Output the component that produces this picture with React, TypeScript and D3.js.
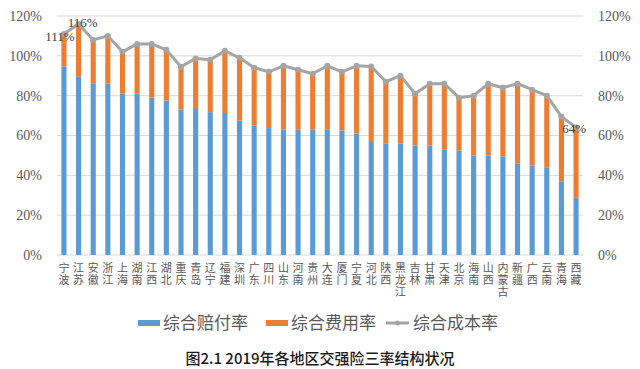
import React from "react";
import * as d3 from "d3";

const regions = [
  "宁波", "江苏", "安徽", "浙江", "上海", "湖南", "江西", "湖北", "重庆", "青岛",
  "辽宁", "福建", "深圳", "广东", "四川", "山东", "河南", "贵州", "大连", "厦门",
  "宁夏", "河北", "陕西", "黑龙江", "吉林", "甘肃", "天津", "北京", "海南", "山西",
  "内蒙古", "新疆", "广西", "云南", "青海", "西藏",
];

// 综合赔付率
const claimRate = [
  94.7, 89.5, 86, 86, 81, 81, 79, 77.5, 73, 73.3, 71.7, 71.3, 67.5, 65, 63.7, 63, 63, 63,
  63, 62.5, 61, 56.7, 56, 56, 55, 55, 53, 52.5, 50, 50, 49.5, 46, 45, 44, 37, 28.7,
];

// 综合费用率
const expenseRate = [
  16.3, 26.5, 22, 24, 21, 25, 27, 25.5, 21.5, 25.4, 26.3, 31.2, 31.5, 29, 28.3, 32, 30, 28,
  32, 29.5, 34, 38, 31, 34, 26, 31, 33, 26.5, 30, 36, 34.5, 40, 38, 36, 32.5, 35.3,
];

// 综合成本率
const costRate = [
  111, 116, 108, 110, 102, 106, 106, 103, 94.5, 98.7, 98, 102.5, 99, 94, 92, 95, 93, 91,
  95, 92, 95, 94.7, 87, 90, 81, 86, 86, 79, 80, 86, 84, 86, 83, 80, 69.5, 64,
];

const labelled = [0, 1, 35];
const yTicks = [0, 20, 40, 60, 80, 100, 120];
const legendItems = ["综合赔付率", "综合费用率", "综合成本率"];
const title = "图2.1  2019年各地区交强险三率结构状况";

const W = 640;
const H = 369;
const BLUE = "#5B9BD5";
const ORANGE = "#ED7D31";
const GRAY = "#A5A5A5";
const TEXT = "#595959";
const CJK = "'Noto Sans CJK SC', sans-serif";
const SERIF = "'Liberation Serif', 'DejaVu Serif', serif";

export default function App() {
  const x = d3
    .scaleBand<string>()
    .domain(regions)
    .range([57, 583])
    .paddingInner(0.65)
    .paddingOuter(0.3);
  const y = d3.scaleLinear().domain([0, 120]).range([255, 16]);
  const cx = (i: number) => (x(regions[i]) as number) + x.bandwidth() / 2;

  const line = d3
    .line<number>()
    .x((_, i) => cx(i))
    .y((d) => y(d));

  // small nudges so the value labels sit like the original
  const labelShift: Record<number, [number, number]> = { 0: [-4, 3], 1: [4, -2], 35: [-2, 1] };

  return (
    <svg
      width={W}
      height={H}
      style={{ position: "absolute", left: 0, top: 0, background: "#fff" }}
    >
      {/* grid + axis labels */}
      {yTicks.map((t) => (
        <g key={t}>
          <line x1={57} x2={583} y1={y(t)} y2={y(t)} stroke="#D9D9D9" strokeWidth={1} />
          <text
            x={42}
            y={y(t)}
            dy="0.35em"
            textAnchor="end"
            fontFamily={SERIF}
            fontSize={14}
            fill={TEXT}
          >
            {t}%
          </text>
          <text x={598} y={y(t)} dy="0.35em" fontFamily={SERIF} fontSize={14} fill={TEXT}>
            {t}%
          </text>
        </g>
      ))}

      {/* stacked bars */}
      {regions.map((r, i) => (
        <g key={r}>
          <rect
            x={x(r)}
            width={x.bandwidth()}
            y={y(claimRate[i])}
            height={y(0) - y(claimRate[i])}
            fill={BLUE}
          />
          <rect
            x={x(r)}
            width={x.bandwidth()}
            y={y(claimRate[i] + expenseRate[i])}
            height={y(claimRate[i]) - y(claimRate[i] + expenseRate[i])}
            fill={ORANGE}
          />
        </g>
      ))}

      {/* cost line */}
      <path d={line(costRate) || ""} fill="none" stroke={GRAY} strokeWidth={3} strokeLinejoin="round" />
      {costRate.map((v, i) => (
        <circle key={i} cx={cx(i)} cy={y(v)} r={3} fill={GRAY} />
      ))}
      {labelled.map((i) => (
        <text
          key={i}
          x={cx(i) + labelShift[i][0]}
          y={y(costRate[i]) + labelShift[i][1]}
          dy="0.35em"
          textAnchor="middle"
          fontFamily={SERIF}
          fontSize={13}
          fill="#404040"
        >
          {Math.round(costRate[i])}%
        </text>
      ))}

      {/* x labels, vertical text */}
      {regions.map((r, i) => (
        <text
          key={r}
          x={cx(i)}
          y={262}
          fontFamily={CJK}
          fontSize={11}
          letterSpacing={1}
          fill={TEXT}
          style={{ writingMode: "vertical-rl", textOrientation: "upright" }}
        >
          {r}
        </text>
      ))}

      {/* legend */}
      <rect x={138} y={320} width={22} height={6} fill={BLUE} />
      <text x={163} y={329} fontFamily={CJK} fontSize={17} fill={TEXT}>
        {legendItems[0]}
      </text>
      <rect x={266} y={320} width={22} height={6} fill={ORANGE} />
      <text x={291} y={329} fontFamily={CJK} fontSize={17} fill={TEXT}>
        {legendItems[1]}
      </text>
      <line x1={386} x2={409} y1={323} y2={323} stroke={GRAY} strokeWidth={3} />
      <circle cx={397.5} cy={323} r={2.5} fill={GRAY} />
      <text x={413} y={329} fontFamily={CJK} fontSize={17} fill={TEXT}>
        {legendItems[2]}
      </text>

      {/* caption */}
      <text
        x={320}
        y={364}
        textAnchor="middle"
        fontFamily={CJK}
        fontSize={15}
        fontWeight={500}
        fill="#1a1a1a"
      >
        {title}
      </text>
    </svg>
  );
}
